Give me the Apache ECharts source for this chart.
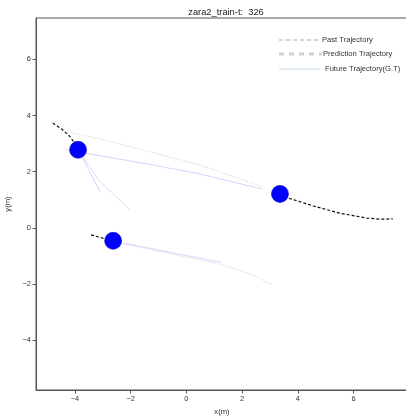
<!DOCTYPE html>
<html><head><meta charset="utf-8">
<script src="https://cdn.jsdelivr.net/npm/echarts@6/dist/echarts.min.js"></script>
<style>html,body{margin:0;padding:0;background:#fff}#c{width:406px;height:416px}</style>
</head><body><div id="c"></div>
<script>
const titleText = 'zara2_train-t:  326';
const xTicks = [-4, -2, 0, 2, 4, 6];
const yTicks = [-4, -2, 0, 2, 4, 6];
// current positions of agents
const current = [[-3.89, 2.78], [3.36, 1.21], [-2.63, -0.46]];
// past trajectories
const pastA1 = [[-4.80, 3.73], [-4.47, 3.51], [-4.20, 3.27], [-4.03, 3.04], [-3.89, 2.78]];
const pastA2 = [[3.36, 1.21], [3.66, 1.06], [4.56, 0.78], [5.52, 0.52], [6.48, 0.35], [6.96, 0.31], [7.41, 0.32]];
const pastA3 = [[-3.42, -0.25], [-2.98, -0.37], [-2.63, -0.46]];
// predicted trajectories
const predA1a = [[-3.89, 2.78], [-3.70, 2.42], [-3.10, 1.29]];
const predA1b = [[-3.89, 2.78], [-3.16, 1.71], [-2.02, 0.64]];
const predA2 = [[2.72, 1.38], [0.49, 1.92], [-1.66, 2.32], [-4.35, 2.78]];
const predA3 = [[-2.26, -0.54], [1.25, -1.23]];
// ground truth future trajectories
const futA2 = [[2.72, 1.47], [0.49, 2.24], [-1.66, 2.80], [-3.10, 3.16], [-4.35, 3.43]];
const futA3 = [[-2.27, -0.57], [1.32, -1.32], [2.29, -1.64], [3.11, -2.03]];

const FONT = 'Liberation Sans';
const fmt = v => String(v).replace('-', '\u2212');
const chart = echarts.init(document.getElementById('c'), null, {renderer: 'canvas'});

function line(data, color, width, type, z) {
  return {type: 'line', data, showSymbol: false, symbol: 'none', silent: true, z,
    lineStyle: {color, width, type}};
}

chart.setOption({
  animation: false,
  backgroundColor: '#fff',
  title: {text: titleText, left: 221, textAlign: 'center', top: 3,
    textStyle: {fontFamily: FONT, fontSize: 9.3, fontWeight: 'normal', color: '#222'}},
  grid: {left: 36, top: 18, width: 372, height: 372, show: true, borderColor: '#555', borderWidth: 1,
    backgroundColor: 'transparent', containLabel: false, outerBoundsMode: 'none'},
  xAxis: {type: 'value', min: -5.40, max: 7.957, name: 'x(m)', nameLocation: 'middle', nameGap: 16,
    nameTextStyle: {fontFamily: FONT, fontSize: 7.7, color: '#333'},
    axisLine: {show: true, onZero: false, lineStyle: {color: '#555', width: 1}},
    axisTick: {show: true, length: 3.5, lineStyle: {color: '#555'}, customValues: xTicks},
    axisLabel: {fontFamily: FONT, fontSize: 7.5, color: '#333', margin: 5, customValues: xTicks, formatter: fmt},
    splitLine: {show: false}},
  yAxis: {type: 'value', min: -5.77, max: 7.47, name: 'y(m)', nameLocation: 'middle', nameGap: 17, nameRotate: 90,
    nameTextStyle: {fontFamily: FONT, fontSize: 7.7, color: '#333'},
    axisLine: {show: true, onZero: false, lineStyle: {color: '#555', width: 1}},
    axisTick: {show: true, length: 3.5, lineStyle: {color: '#555'}, customValues: yTicks},
    axisLabel: {fontFamily: FONT, fontSize: 7.5, color: '#333', margin: 5, customValues: yTicks, formatter: fmt},
    splitLine: {show: false}},
  series: [
    line(futA2, '#d8d8d8', 1, [1.5, 1.5], 2),
    line(futA3, '#d8d8d8', 1, [1.5, 1.5], 2),
    line(predA2, '#d4d4ff', 1, 'solid', 3),
    line(predA3, '#d4d4ff', 1, 'solid', 3),
    line(predA1a, '#d4d4ff', 1, 'solid', 3),
    line(predA1b, '#dcdcf0', 1, 'solid', 3),
    line(pastA1, '#111', 1.2, [3, 2], 4),
    line(pastA2, '#111', 1.2, [3, 2], 4),
    line(pastA3, '#111', 1.2, [3, 2], 4),
    {type: 'scatter', data: current, symbol: 'circle', symbolSize: 17, silent: true, z: 6,
      itemStyle: {color: '#0000ff', borderColor: '#0000c0', borderWidth: 0.6, opacity: 1}}
  ],
  graphic: [
    {type: 'line', shape: {x1: 279, y1: 40, x2: 320, y2: 40}, style: {stroke: '#aaa', lineWidth: 1, lineDash: [4, 3]}},
    {type: 'text', x: 322, y: 40, style: {text: 'Past Trajectory', font: '7.6px "Liberation Sans"', fill: '#333', textVerticalAlign: 'middle'}},
    {type: 'line', shape: {x1: 279, y1: 54, x2: 322, y2: 54}, style: {stroke: '#d0d0d0', lineWidth: 3, lineDash: [5, 5]}},
    {type: 'text', x: 323, y: 54, style: {text: 'Prediction Trajectory', font: '7.6px "Liberation Sans"', fill: '#333', textVerticalAlign: 'middle'}},
    {type: 'line', shape: {x1: 279, y1: 69, x2: 320, y2: 69}, style: {stroke: '#c4def0', lineWidth: 1.2}},
    {type: 'text', x: 325, y: 69, style: {text: 'Future Trajectory(G.T)', font: '7.6px "Liberation Sans"', fill: '#333', textVerticalAlign: 'middle'}}
  ]
});
</script></body></html>
